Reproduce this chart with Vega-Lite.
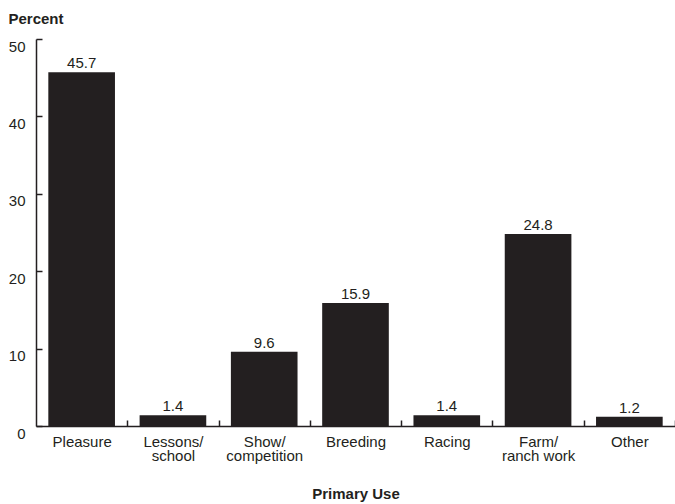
{
  "$schema": "https://vega.github.io/schema/vega-lite/v6.json",
  "width": 639,
  "height": 387,
  "autosize": "none",
  "padding": {"left": 36, "top": 39, "right": 0, "bottom": 78},
  "config": {
    "view": {"stroke": null},
    "font": "Liberation Sans",
    "axis": {"grid": false, "domainColor": "#231f20", "tickColor": "#231f20", "labelColor": "#231f20", "titleColor": "#231f20", "domainWidth": 1.5, "tickWidth": 1.5}
  },
  "data": {
    "values": [
      {"use": "Pleasure", "percent": 45.7},
      {"use": "Lessons/school", "percent": 1.4},
      {"use": "Show/competition", "percent": 9.6},
      {"use": "Breeding", "percent": 15.9},
      {"use": "Racing", "percent": 1.4},
      {"use": "Farm/ranch work", "percent": 24.8},
      {"use": "Other", "percent": 1.2}
    ]
  },
  "encoding": {
    "x": {
      "field": "use", "type": "nominal", "sort": null,
      "scale": {"paddingInner": 0.27, "paddingOuter": 0.135},
      "axis": {
        "title": "Primary Use", "titleFontSize": 15, "titleFontWeight": "bold",
        "titleY": 67, "titleBaseline": "middle",
        "labelAngle": 0, "labelFontSize": 15, "labelLineHeight": 14, "labelBaseline": "top",
        "labelPadding": 14, "ticks": true, "tickSize": -6, "tickOffset": 45.64, "labelOffset": -45.64,
        "labelExpr": "isString(datum.value) && indexof(datum.value,'/')>0 ? [slice(datum.value,0,indexof(datum.value,'/')+1), slice(datum.value,indexof(datum.value,'/')+1)] : datum.label"
      }
    },
    "y": {
      "field": "percent", "type": "quantitative",
      "scale": {"domain": [0, 50], "nice": false},
      "axis": {
        "values": [0, 10, 20, 30, 40, 50],
        "title": "Percent", "titleAngle": 0, "titleFontSize": 15, "titleFontWeight": "bold",
        "titleX": -28, "titleY": -21, "titleAlign": "left", "titleBaseline": "middle", "titleAnchor": "start",
        "labelFontSize": 15, "labelBaseline": "top", "labelPadding": 17, "tickSize": -6, "labelAlign": "right"
      }
    }
  },
  "layer": [
    {"mark": {"type": "bar", "color": "#231f20"}},
    {
      "mark": {"type": "text", "fontSize": 15, "color": "#231f20", "baseline": "alphabetic", "dy": -4},
      "encoding": {"text": {"field": "percent", "type": "quantitative", "format": ".1f"}}
    }
  ]
}
